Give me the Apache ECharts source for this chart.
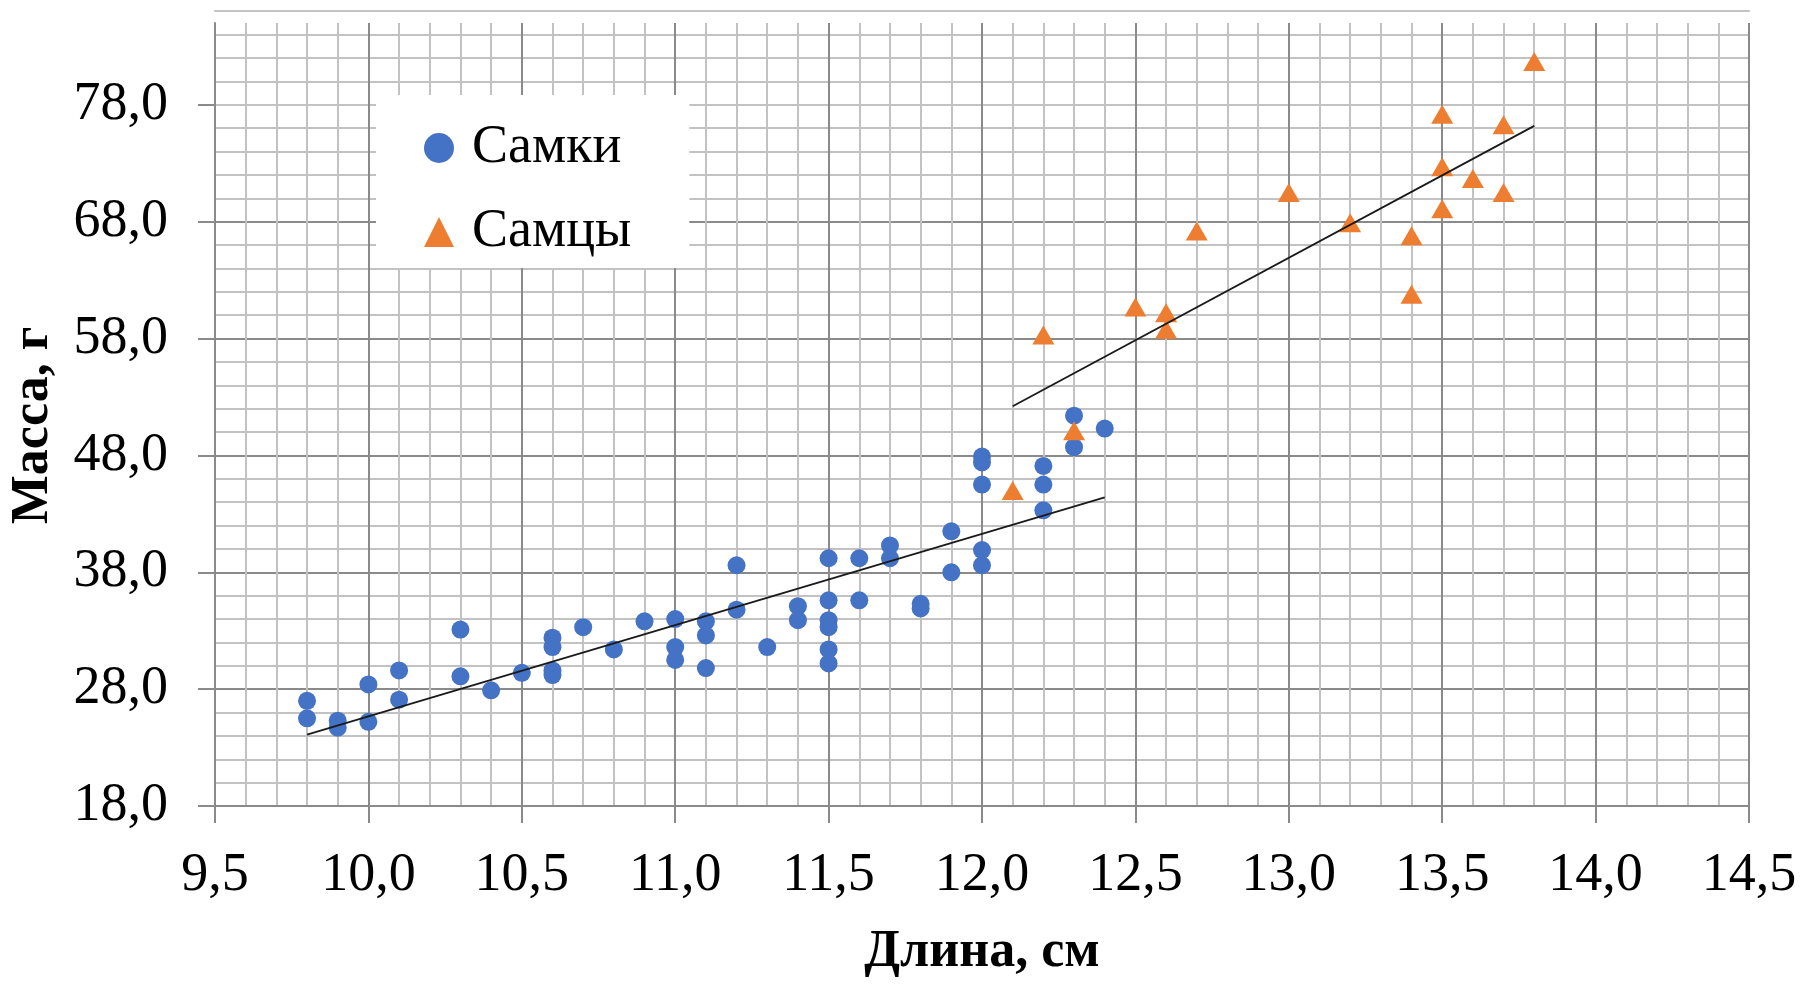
<!DOCTYPE html>
<html>
<head>
<meta charset="utf-8">
<title>Масса и длина</title>
<script src="https://cdn.jsdelivr.net/npm/echarts@6/dist/echarts.min.js"></script>
<style>
  html, body { margin: 0; padding: 0; background: #fff; }
  #chart { width: 1804px; height: 984px; }
</style>
</head>
<body>
<div id="chart"></div>
<script>
// длина (см) и масса (г) — самки
const femaleLength = [9.8, 9.8, 9.9, 9.9, 10.0, 10.0, 10.1, 10.1, 10.3, 10.3, 10.4, 10.5,
  10.6, 10.6, 10.6, 10.6, 10.7, 10.8, 10.9, 11.0, 11.0, 11.0, 11.1, 11.1, 11.1, 11.2, 11.2,
  11.3, 11.4, 11.4, 11.5, 11.5, 11.5, 11.5, 11.5, 11.5, 11.6, 11.6, 11.7, 11.7, 11.8, 11.8,
  11.9, 11.9, 12.0, 12.0, 12.0, 12.0, 12.0, 12.2, 12.2, 12.2, 12.3, 12.3, 12.4]
const femaleMass = [27.0, 25.5, 25.3, 24.7, 28.4, 25.2, 29.6, 27.1, 33.1, 29.1, 27.9, 29.4,
  32.4, 31.6, 29.6, 29.2, 33.3, 31.4, 33.8, 34.0, 31.6, 30.5, 33.8, 32.6, 29.8, 38.6, 34.8,
  31.6, 35.1, 33.9, 39.2, 35.6, 33.9, 33.3, 31.4, 30.2, 39.2, 35.6, 40.3, 39.2, 35.3, 34.9,
  41.5, 38.0, 47.9, 47.4, 45.5, 39.9, 38.6, 47.1, 45.5, 43.3, 51.4, 48.7, 50.3]

// самцы
const maleLength = [12.1, 12.2, 12.3, 12.5, 12.6, 12.6, 12.7, 13.0, 13.2, 13.4, 13.4,
  13.5, 13.5, 13.5, 13.6, 13.7, 13.7, 13.8]
const maleMass = [45.0, 58.3, 50.1, 60.7, 60.2, 58.8, 67.2, 70.5, 67.9, 66.8, 61.8,
  77.2, 72.7, 69.1, 71.7, 76.3, 70.5, 81.7]

// линии тренда (концы, как на рисунке)
const femaleTrend = [[9.8, 24.1], [12.4, 44.4]]
const maleTrend = [[12.1, 52.2], [13.8, 76.2]]

// подписи осей
const xTickValues = [9.5, 10.0, 10.5, 11.0, 11.5, 12.0, 12.5, 13.0, 13.5, 14.0, 14.5]
const xTickLabels = ['9,5', '10,0', '10,5', '11,0', '11,5', '12,0', '12,5', '13,0', '13,5', '14,0', '14,5']
const yTickValues = [18, 28, 38, 48, 58, 68, 78]
const yTickLabels = ['18,0', '28,0', '38,0', '48,0', '58,0', '68,0', '78,0']

const FONT = 'Liberation Serif'
const MAJOR = '#8a8a8a'
const MINOR = '#c2c2c2'

function pairs(xs, ys) {
  return xs.map((x, i) => [x, ys[i]])
}

function lookup(values, labels) {
  return function(v) {
    const i = values.findIndex(t => Math.abs(t - v) < 1e-6)
    return i < 0 ? '' : labels[i]
  }
}

const chart = echarts.init(document.getElementById('chart'), null, { renderer: 'canvas' })

chart.setOption({
  backgroundColor: '#fff',
  animation: false,
  grid: { left: 213, right: 55, top: 23, bottom: 176 },
  legend: {
    orient: 'vertical',
    left: 376,
    top: 95,
    data: ['Самки', 'Самцы'],
    backgroundColor: '#fff',
    padding: [26, 58, 9, 48],
    itemGap: 30,
    itemWidth: 30,
    itemHeight: 30,
    itemStyle: { opacity: 1 },
    textStyle: { fontFamily: FONT, fontSize: 54, color: '#000', padding: [0, 0, 0, 13] }
  },
  xAxis: [
    {
      // minor grid
      type: 'value', position: 'bottom', min: 9.5, max: 14.5, interval: 0.1,
      axisLine: { show: false }, axisTick: { show: false }, axisLabel: { show: false },
      splitLine: { show: true, lineStyle: { color: MINOR, width: 2 } }
    },
    {
      type: 'value', position: 'bottom', min: 9.5, max: 14.5, interval: 0.5,
      name: 'Длина, см',
      nameLocation: 'middle',
      nameGap: 121,
      nameTextStyle: { fontFamily: FONT, fontSize: 52, fontWeight: 'bold', color: '#000' },
      axisLine: { show: true, lineStyle: { color: MAJOR, width: 2 } },
      axisTick: { show: true, inside: false, length: 17, lineStyle: { color: MAJOR, width: 2 } },
      axisLabel: {
        margin: 43, fontFamily: FONT, fontSize: 54, color: '#000',
        formatter: lookup(xTickValues, xTickLabels)
      },
      splitLine: { show: true, lineStyle: { color: MAJOR, width: 2 } }
    },
    {
      // тонкая линия сверху
      type: 'value', position: 'top', min: 9.5, max: 14.5, offset: 12,
      axisLine: { show: true, lineStyle: { color: MINOR, width: 2 } },
      axisTick: { show: false }, axisLabel: { show: false }, splitLine: { show: false }
    }
  ],
  yAxis: [
    {
      // minor grid
      type: 'value', position: 'left', min: 18, max: 85, interval: 2,
      axisLine: { show: false }, axisTick: { show: false }, axisLabel: { show: false },
      splitLine: { show: true, showMaxLine: false, lineStyle: { color: MINOR, width: 2 } }
    },
    {
      type: 'value', position: 'left', min: 18, max: 85,
      name: 'Масса, г',
      nameLocation: 'middle',
      nameGap: 155,
      nameTextStyle: {
        fontFamily: FONT, fontSize: 52, fontWeight: 'bold', color: '#000',
        padding: [0, 22, 0, 0]
      },
      axisLine: { show: true, lineStyle: { color: MAJOR, width: 2 } },
      axisTick: {
        show: true, inside: false, length: 17, customValues: yTickValues,
        lineStyle: { color: MAJOR, width: 2 }
      },
      axisLabel: {
        margin: 47, fontFamily: FONT, fontSize: 54, color: '#000',
        customValues: yTickValues,
        formatter: lookup(yTickValues, yTickLabels)
      },
      splitLine: { show: true, showMaxLine: false, lineStyle: { color: MAJOR, width: 2 } }
    }
  ],
  series: [
    {
      name: 'Самки',
      type: 'scatter',
      xAxisIndex: 1,
      yAxisIndex: 1,
      symbol: 'circle',
      symbolSize: 18,
      itemStyle: { color: '#4472C4', opacity: 1 },
      data: pairs(femaleLength, femaleMass)
    },
    {
      name: 'Самцы',
      type: 'scatter',
      xAxisIndex: 1,
      yAxisIndex: 1,
      symbol: 'triangle',
      symbolSize: [22, 19],
      itemStyle: { color: '#ED7D31', opacity: 1 },
      data: pairs(maleLength, maleMass)
    },
    {
      name: 'trend-f',
      type: 'line',
      xAxisIndex: 1,
      yAxisIndex: 1,
      z: 3,
      symbol: 'none',
      silent: true,
      lineStyle: { color: '#1a1a1a', width: 1.8 },
      data: femaleTrend
    },
    {
      name: 'trend-m',
      type: 'line',
      xAxisIndex: 1,
      yAxisIndex: 1,
      z: 3,
      symbol: 'none',
      silent: true,
      lineStyle: { color: '#1a1a1a', width: 1.8 },
      data: maleTrend
    }
  ]
})
</script>
</body>
</html>
